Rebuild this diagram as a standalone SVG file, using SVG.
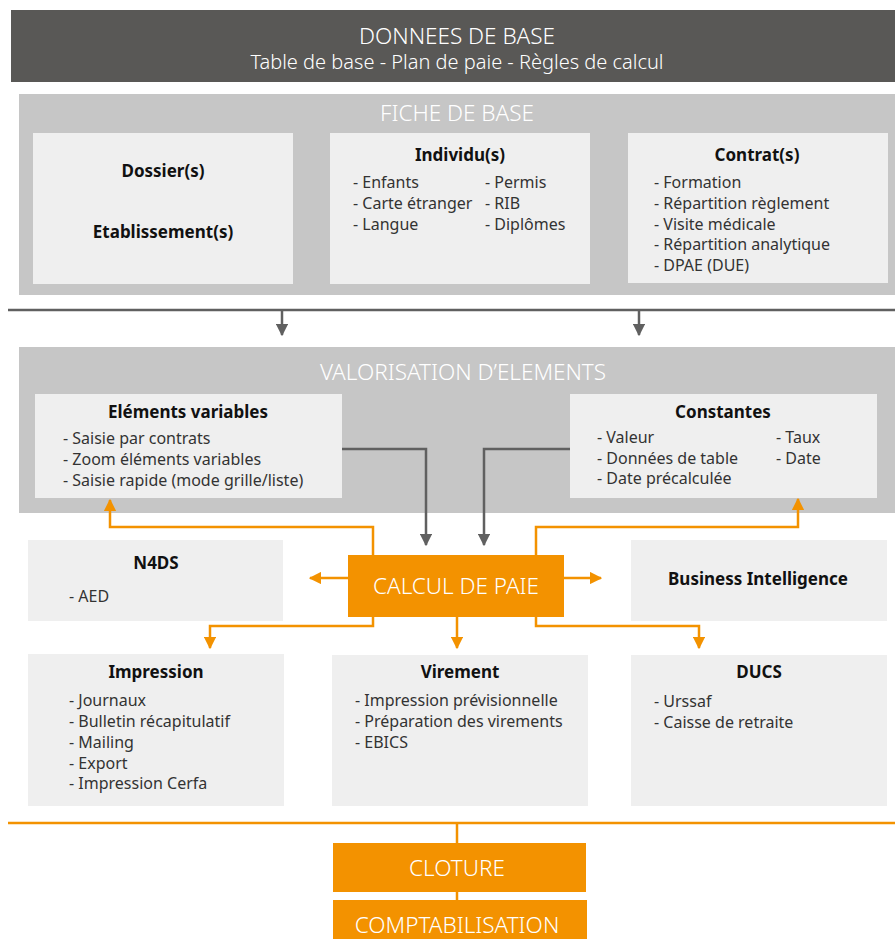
<svg xmlns="http://www.w3.org/2000/svg" width="895" height="939" viewBox="0 0 895 939">
<defs>
<style>
text{font-family:"Noto Sans","Open Sans","Liberation Sans",sans-serif;}
.band{fill:#c6c6c6;}
.box{fill:#efefef;}
.org{fill:#f39200;}
.h{font-size:17px;font-weight:bold;fill:#111;text-anchor:middle;}
.li{font-size:16px;fill:#333;}
.big{font-size:22.5px;font-weight:300;fill:#fff;text-anchor:middle;}
.gl{stroke:#606060;stroke-width:2.5;fill:none;}
.ol{stroke:#f39200;stroke-width:2.5;fill:none;}
</style>
<marker id="ag" viewBox="0 0 10 10" refX="9" refY="5" markerWidth="5" markerHeight="5" orient="auto"><path d="M0,0 L10,5 L0,10 z" fill="#606060"/></marker>
<marker id="ao" viewBox="0 0 10 10" refX="9" refY="5" markerWidth="5" markerHeight="5" orient="auto"><path d="M0,0 L10,5 L0,10 z" fill="#f39200"/></marker>
</defs>
<rect width="895" height="939" fill="#fff"/>

<g id="donnees">
<rect x="11" y="10" width="884" height="72" fill="#595856"/>
<text class="big" x="457" y="44">DONNEES DE BASE</text>
<text x="457" y="69" style="font-size:20px;font-weight:300;fill:#fff;text-anchor:middle">Table de base - Plan de paie - Règles de calcul</text>
</g>

<g id="fiche">
<rect class="band" x="19" y="94" width="876" height="201"/>
<text class="big" x="457" y="121">FICHE DE BASE</text>
</g>
<g id="dossier">
<rect class="box" x="33" y="133" width="260" height="151"/>
<text class="h" x="163" y="177">Dossier(s)</text>
<text class="h" x="163" y="238">Etablissement(s)</text>
</g>
<g id="individu">
<rect class="box" x="330" y="133" width="260" height="151"/>
<text class="h" x="460" y="161">Individu(s)</text>
<text class="li" x="353" y="188">- Enfants</text>
<text class="li" x="353" y="209">- Carte étranger</text>
<text class="li" x="353" y="230">- Langue</text>
<text class="li" x="485" y="188">- Permis</text>
<text class="li" x="485" y="209">- RIB</text>
<text class="li" x="485" y="230">- Diplômes</text>
</g>
<g id="contrat">
<rect class="box" x="628" y="133" width="260" height="150"/>
<text class="h" x="757" y="161">Contrat(s)</text>
<text class="li" x="654" y="188">- Formation</text>
<text class="li" x="654" y="209">- Répartition règlement</text>
<text class="li" x="654" y="230">- Visite médicale</text>
<text class="li" x="654" y="250">- Répartition analytique</text>
<text class="li" x="654" y="271">- DPAE (DUE)</text>
</g>

<g id="valorisation">
<rect class="band" x="19" y="347" width="876" height="166"/>
<text class="big" x="463" y="380">VALORISATION D’ELEMENTS</text>
</g>
<g id="elements">
<rect class="box" x="35" y="394" width="307" height="104"/>
<text class="h" x="188" y="418">Eléments variables</text>
<text class="li" x="63" y="444">- Saisie par contrats</text>
<text class="li" x="63" y="465">- Zoom éléments variables</text>
<text class="li" x="63" y="486">- Saisie rapide (mode grille/liste)</text>
</g>
<g id="constantes">
<rect class="box" x="570" y="394" width="307" height="104"/>
<text class="h" x="723" y="418">Constantes</text>
<text class="li" x="597" y="443">- Valeur</text>
<text class="li" x="597" y="464">- Données de table</text>
<text class="li" x="597" y="484">- Date précalculée</text>
<text class="li" x="776" y="443">- Taux</text>
<text class="li" x="776" y="464">- Date</text>
</g>

<g id="n4ds">
<rect class="box" x="28" y="540" width="255" height="81"/>
<text class="h" x="156" y="569">N4DS</text>
<text class="li" x="69" y="602">- AED</text>
</g>
<g id="calcul">
<rect class="org" x="348" y="555" width="216" height="62"/>
<text class="big" x="456" y="594">CALCUL DE PAIE</text>
</g>
<g id="bi">
<rect class="box" x="631" y="540" width="256" height="81"/>
<text class="h" x="758" y="585">Business Intelligence</text>
</g>

<g id="impression">
<rect class="box" x="28" y="654" width="256" height="152"/>
<text class="h" x="156" y="678">Impression</text>
<text class="li" x="69" y="706">- Journaux</text>
<text class="li" x="69" y="727">- Bulletin récapitulatif</text>
<text class="li" x="69" y="748">- Mailing</text>
<text class="li" x="69" y="769">- Export</text>
<text class="li" x="69" y="789">- Impression Cerfa</text>
</g>
<g id="virement">
<rect class="box" x="332" y="655" width="256" height="151"/>
<text class="h" x="460" y="678">Virement</text>
<text class="li" x="355" y="706">- Impression prévisionnelle</text>
<text class="li" x="355" y="727">- Préparation des virements</text>
<text class="li" x="355" y="748">- EBICS</text>
</g>
<g id="ducs">
<rect class="box" x="631" y="655" width="256" height="151"/>
<text class="h" x="759" y="678">DUCS</text>
<text class="li" x="654" y="707">- Urssaf</text>
<text class="li" x="654" y="728">- Caisse de retraite</text>
</g>

<g id="cloture">
<rect class="org" x="333" y="843" width="253" height="49"/>
<text class="big" x="457" y="876">CLOTURE</text>
</g>
<g id="comptabilisation">
<rect class="org" x="333" y="900" width="254" height="45"/>
<text class="big" x="457" y="933">COMPTABILISATION</text>
</g>

<g id="connectors">
<line class="gl" x1="8" y1="310" x2="895" y2="310"/>
<line class="gl" x1="282" y1="310" x2="282" y2="335" marker-end="url(#ag)"/>
<line class="gl" x1="639" y1="310" x2="639" y2="335" marker-end="url(#ag)"/>
<path class="gl" d="M342,449 H426 V545" marker-end="url(#ag)"/>
<path class="gl" d="M570,449 H484 V545" marker-end="url(#ag)"/>
<path class="ol" d="M373,555 V527 H110 V500" marker-end="url(#ao)"/>
<path class="ol" d="M536,555 V527 H798 V499" marker-end="url(#ao)"/>
<path class="ol" d="M348,578 H310" marker-end="url(#ao)"/>
<path class="ol" d="M564,578 H601" marker-end="url(#ao)"/>
<path class="ol" d="M373,617 V626 H210 V648" marker-end="url(#ao)"/>
<path class="ol" d="M457,617 V648" marker-end="url(#ao)"/>
<path class="ol" d="M536,617 V626 H699 V648" marker-end="url(#ao)"/>
<line class="ol" x1="8" y1="823" x2="895" y2="823"/>
<line class="ol" x1="457" y1="823" x2="457" y2="843"/>
<line class="ol" x1="457" y1="892" x2="457" y2="900"/>
</g>
</svg>
